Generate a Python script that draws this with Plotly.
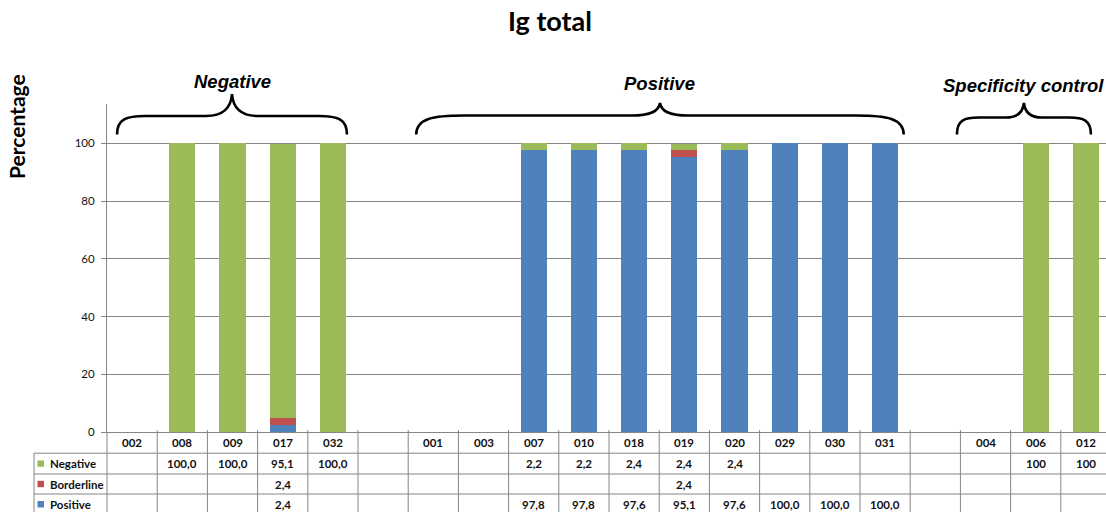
import plotly.graph_objects as go

# ---- data -------------------------------------------------------------
categories = ["002", "008", "009", "017", "032", "", "001", "003", "007", "010",
              "018", "019", "020", "029", "030", "031", "", "004", "006", "012"]
negative = [None, 100.0, 100.0, 95.1, 100.0, None, None, None, 2.2, 2.2,
            2.4, 2.4, 2.4, None, None, None, None, None, 100, 100]
borderline = [None, None, None, 2.4, None, None, None, None, None, None,
              None, 2.4, None, None, None, None, None, None, None, None]
positive = [None, None, None, 2.4, None, None, None, None, 97.8, 97.8,
            97.6, 95.1, 97.6, 100.0, 100.0, 100.0, None, None, None, None]
# decimals shown in the data table for each column
decimals = [1, 1, 1, 1, 1, 1, 1, 1, 1, 1, 1, 1, 1, 1, 1, 1, 1, 0, 0, 0]

series_names = ["Positive", "Borderline", "Negative"]       # stacking order
series_values = {"Positive": positive, "Borderline": borderline, "Negative": negative}
series_colors = {"Positive": "#4F81BD", "Borderline": "#C0504D", "Negative": "#9BBB59"}
table_order = ["Negative", "Borderline", "Positive"]       # table rows, top to bottom

# group braces: label, first/last category position, brace style (px)
groups = [
    ("Negative", -0.3, 4.28, dict(tip=94, flat=116, r=28, q=26, label_y=82)),
    ("Positive", 5.66, 15.37, dict(tip=103, flat=115.5, r=48, q=28, label_y=83)),
    ("Specificity control", 16.43, 19.1, dict(tip=103, flat=117.5, r=22, q=18, label_y=85)),
]

# ---- geometry ---------------------------------------------------------
FIG_W, FIG_H = 1106, 512
M_L, M_T, M_B, M_R = 107, 104, 80, 0
PLOT_W = FIG_W - M_L - M_R
PLOT_H = FIG_H - M_T - M_B
X_RANGE = [-0.5, 19.4]
Y_RANGE = [0, 113.6]

GRID = "#868686"
TXT = "#111111"
CAL = "Lato, 'Open Sans', sans-serif"
ARIAL = "'Liberation Sans', Arial, sans-serif"
TABLE_FONT = 11.5


def px_x(p):
    return (p - M_L) / PLOT_W


def px_y(p):
    return (FIG_H - M_B - p) / PLOT_H


def cat_x(i):
    return (i - X_RANGE[0]) / (X_RANGE[1] - X_RANGE[0])


def cat_px(i):
    return M_L + cat_x(i) * PLOT_W


x_pos = list(range(len(categories)))

fig = go.Figure()
for name in series_names:
    fig.add_trace(go.Bar(
        x=x_pos, y=series_values[name], name=name, width=0.52,
        marker=dict(color=series_colors[name], line=dict(width=0)),
        showlegend=False, hoverinfo="x+y+name",
    ))

shapes = []
annotations = []

# ---- data table under the axis ----------------------------------------
row_edges = [432, 453.2, 474, 494, 514.5]
left_border = 34

for k in range(1, 4):
    shapes.append(dict(type="line", xref="paper", yref="paper",
                       x0=px_x(left_border), x1=cat_x(len(categories) - 0.5),
                       y0=px_y(row_edges[k]), y1=px_y(row_edges[k]),
                       line=dict(color=GRID, width=1)))
for i in range(len(categories) + 1):
    shapes.append(dict(type="line", xref="paper", yref="paper",
                       x0=cat_x(i - 0.5), x1=cat_x(i - 0.5),
                       y0=px_y(row_edges[0] - 2 if i else row_edges[0]), y1=px_y(row_edges[-1]),
                       line=dict(color=GRID, width=1)))
shapes.append(dict(type="line", xref="paper", yref="paper",
                   x0=px_x(left_border), x1=px_x(left_border),
                   y0=px_y(row_edges[1]), y1=px_y(row_edges[-1]),
                   line=dict(color=GRID, width=1)))

cat_row_y = px_y((row_edges[0] + row_edges[1]) / 2)
for i, c in enumerate(categories):
    if c:
        annotations.append(dict(xref="paper", yref="paper", x=cat_x(i), y=cat_row_y,
                                text=f"<b>{c}</b>", showarrow=False,
                                xanchor="center", yanchor="middle",
                                font=dict(family=CAL, size=TABLE_FONT, color=TXT)))

for r, name in enumerate(table_order):
    yc = (row_edges[r + 1] + row_edges[r + 2]) / 2
    # legend key + row label
    shapes.append(dict(type="rect", xref="paper", yref="paper",
                       x0=px_x(37.5), x1=px_x(44), y0=px_y(yc + 3.2), y1=px_y(yc - 3.2),
                       fillcolor=series_colors[name], line=dict(width=0)))
    annotations.append(dict(xref="paper", yref="paper", x=px_x(47.5), y=px_y(yc),
                            text=f"<b>{name}</b>", showarrow=False,
                            xanchor="left", yanchor="middle",
                            font=dict(family=CAL, size=TABLE_FONT, color=TXT)))
    for i, v in enumerate(series_values[name]):
        if v is None:
            continue
        label = f"{v:.{decimals[i]}f}".replace(".", ",")
        annotations.append(dict(xref="paper", yref="paper", x=cat_x(i), y=px_y(yc),
                                text=f"<b>{label}</b>", showarrow=False,
                                xanchor="center", yanchor="middle",
                                font=dict(family=CAL, size=TABLE_FONT, color=TXT)))

# ---- group braces -----------------------------------------------------
def brace_path(xa, xb, y_end, st):
    xm = (xa + xb) / 2
    yh, yt, r, q = st["flat"], st["tip"], st["r"], st["q"]
    rise = yh - yt
    pts = [
        f"M {px_x(xa)},{px_y(y_end)}",
        f"C {px_x(xa)},{px_y(yh + (y_end - yh) * 0.15)} {px_x(xa + r * 0.35)},{px_y(yh)} {px_x(xa + r)},{px_y(yh)}",
        f"L {px_x(xm - q)},{px_y(yh)}",
        f"C {px_x(xm - q * 0.35)},{px_y(yh)} {px_x(xm - 1)},{px_y(yh - rise * 0.35)} {px_x(xm)},{px_y(yt)}",
        f"C {px_x(xm + 1)},{px_y(yh - rise * 0.35)} {px_x(xm + q * 0.35)},{px_y(yh)} {px_x(xm + q)},{px_y(yh)}",
        f"L {px_x(xb - r)},{px_y(yh)}",
        f"C {px_x(xb - r * 0.35)},{px_y(yh)} {px_x(xb)},{px_y(yh + (y_end - yh) * 0.15)} {px_x(xb)},{px_y(y_end)}",
    ]
    return " ".join(pts)


for label, a, b, st in groups:
    xa, xb = cat_px(a), cat_px(b)
    shapes.append(dict(type="path", xref="paper", yref="paper",
                       path=brace_path(xa, xb, 134.5, st),
                       line=dict(color="black", width=2.6)))
    annotations.append(dict(xref="paper", yref="paper", x=px_x((xa + xb) / 2), y=px_y(st["label_y"]),
                            text=f"<b><i>{label}</i></b>", showarrow=False,
                            xanchor="center", yanchor="middle",
                            font=dict(family=ARIAL, size=18.5, color="black")))

# ---- titles -----------------------------------------------------------
annotations.append(dict(xref="paper", yref="paper", x=px_x(550), y=px_y(20),
                        text="<b>Ig total</b>", showarrow=False,
                        xanchor="center", yanchor="middle",
                        font=dict(family=CAL, size=27, color="black")))
annotations.append(dict(xref="paper", yref="paper", x=px_x(17), y=px_y(127),
                        text="<b>Percentage</b>", showarrow=False, textangle=-90,
                        xanchor="center", yanchor="middle",
                        font=dict(family=CAL, size=21, color="black")))

fig.update_layout(
    width=FIG_W, height=FIG_H,
    margin=dict(l=M_L, r=M_R, t=M_T, b=M_B, pad=0),
    paper_bgcolor="white", plot_bgcolor="white",
    barmode="stack", bargap=0,
    shapes=shapes, annotations=annotations,
    xaxis=dict(range=X_RANGE, showticklabels=False, ticks="", showgrid=False,
               zeroline=False, showline=True, linecolor=GRID, linewidth=1, fixedrange=True),
    yaxis=dict(range=Y_RANGE, tick0=0, dtick=20, showgrid=True, gridcolor=GRID, gridwidth=1,
               zeroline=False, showline=True, linecolor=GRID, linewidth=1,
               ticks="outside", ticklen=5, tickcolor=GRID, ticklabelstandoff=4,
               tickfont=dict(family=CAL, size=11.5, color=TXT), fixedrange=True),
)

fig.write_html("out.html")
